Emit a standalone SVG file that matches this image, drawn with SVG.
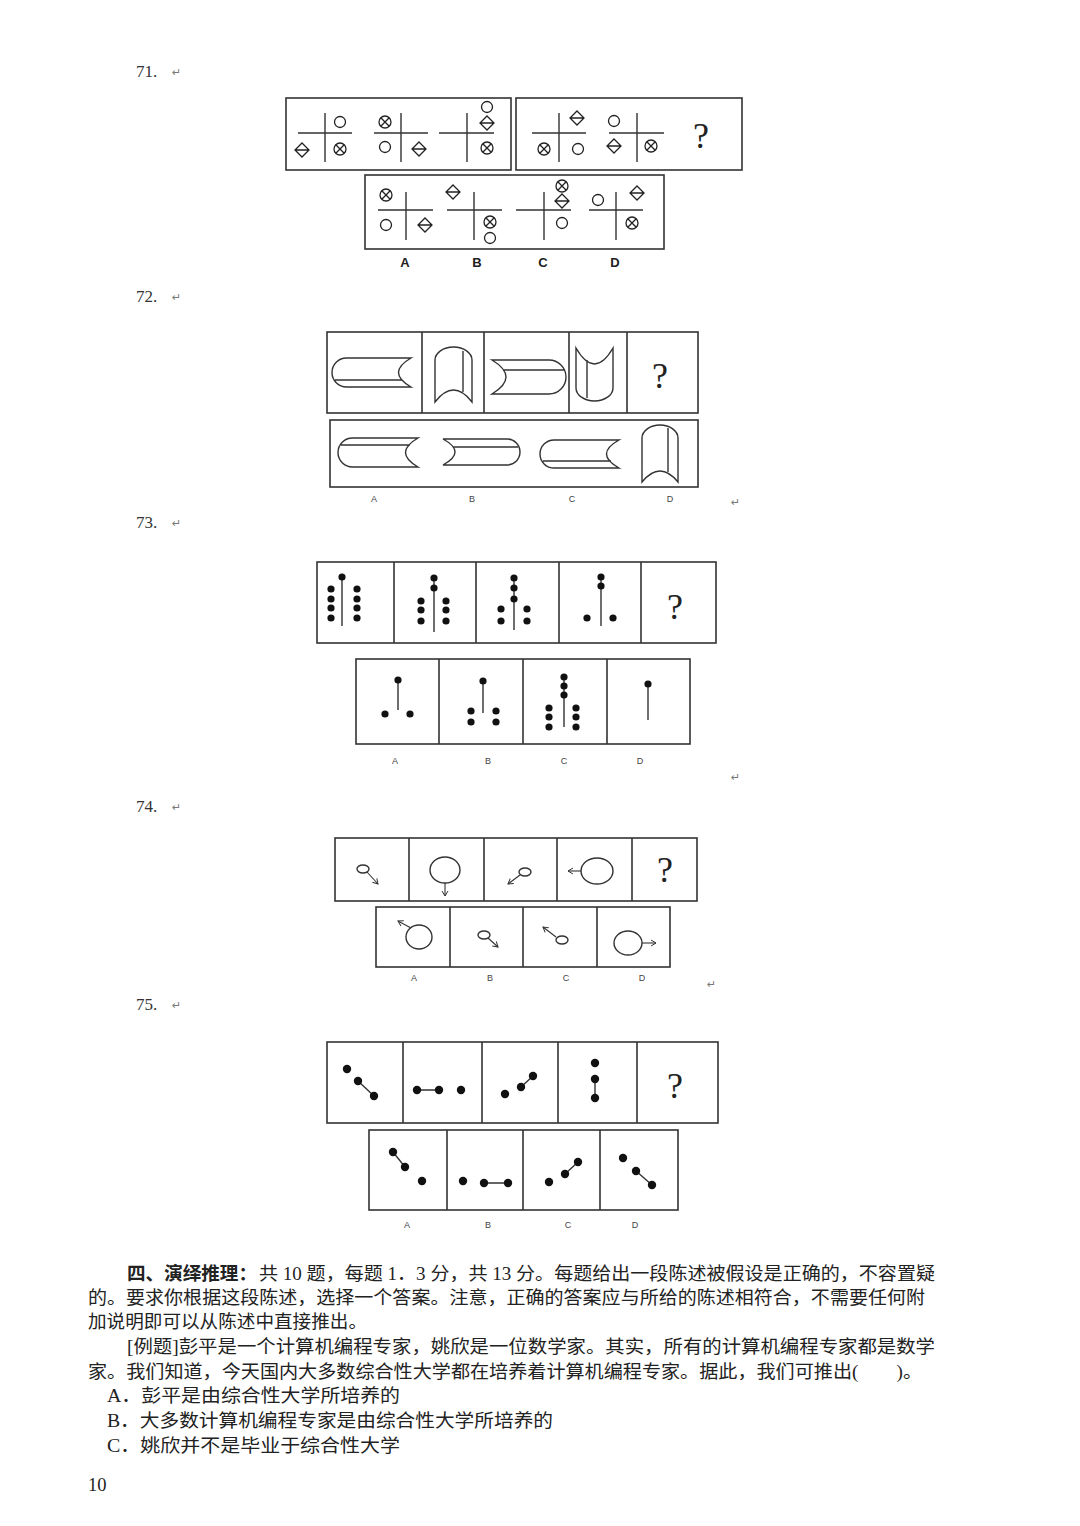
<svg xmlns="http://www.w3.org/2000/svg" width="1080" height="1526" viewBox="0 0 1080 1526">
<style>
.bx{fill:none;stroke:#333;stroke-width:1.6}
.ln{fill:none;stroke:#333;stroke-width:1.4}
.th{fill:none;stroke:#222;stroke-width:1.3}
.dt{fill:#111}
.q{font-family:"Liberation Serif",serif;font-size:17px;fill:#333}
.rt{font-family:"DejaVu Sans",sans-serif;font-size:11px;fill:#777}
.lb{font-family:"Liberation Sans",Arial,sans-serif;font-size:13px;font-weight:bold;fill:#222}
.ls{font-family:"Liberation Sans",Arial,sans-serif;font-size:9px;fill:#444}
.qm{font-family:"Liberation Serif",serif;font-size:36px;fill:#222}
.cn{font-family:"Liberation Serif","Noto Sans CJK SC",serif;font-size:18.5px;fill:#222}
</style>
<defs>
<g id="o"><circle r="5.5" class="th"/></g>
<g id="d"><path d="M0,-7 L7,0 L0,7 L-7,0 Z M-7,0 H7" class="th"/></g>
<g id="x"><circle r="6" class="th"/><path d="M-4.2,-4.2 L4.2,4.2 M-4.2,4.2 L4.2,-4.2" class="th"/></g>
<marker id="ah" markerWidth="8" markerHeight="8" refX="6" refY="4" orient="auto" markerUnits="userSpaceOnUse"><path d="M1,1 L6,4 L1,7" fill="none" stroke="#333" stroke-width="1"/></marker>
</defs>
<rect width="1080" height="1526" fill="#fff"/>

<text x="136" y="77" class="q">71.</text><text x="172" y="76" class="rt">↵</text>
<text x="136" y="302" class="q">72.</text><text x="172" y="301" class="rt">↵</text>
<text x="136" y="528" class="q">73.</text><text x="172" y="527" class="rt">↵</text>
<text x="136" y="812" class="q">74.</text><text x="172" y="811" class="rt">↵</text>
<text x="136" y="1010" class="q">75.</text><text x="172" y="1009" class="rt">↵</text>
<text x="731" y="506" class="rt">↵</text>
<text x="731" y="781" class="rt">↵</text>
<text x="707" y="988" class="rt">↵</text>

<g id="q71">
<rect x="286" y="98" width="225" height="72" class="bx"/>
<rect x="516" y="98" width="226" height="72" class="bx"/>
<rect x="365" y="175" width="299" height="74" class="bx"/>
<path d="M298,133H352M325,113V162 M374,133H428M401,113V162 M439,133H494M467,113V162 M532,133H586M559,113V162 M609,133H664M637,113V162 M378,210H433M406,192V240 M447,210H502M474,192V240 M516,210H571M544,192V240 M589,210H643M616,192V240" class="ln"/>
<use href="#o" x="340" y="122"/><use href="#d" x="302" y="150"/><use href="#x" x="340" y="149"/>
<use href="#x" x="385" y="122"/><use href="#o" x="385" y="147"/><use href="#d" x="419" y="149"/>
<use href="#o" x="487" y="107"/><use href="#d" x="487" y="123"/><use href="#x" x="487" y="148"/>
<use href="#d" x="577" y="118"/><use href="#x" x="544" y="149"/><use href="#o" x="578" y="149"/>
<use href="#o" x="614" y="121"/><use href="#d" x="614" y="146"/><use href="#x" x="651" y="146"/>
<text x="701" y="148" class="qm" text-anchor="middle">?</text>
<use href="#x" x="386" y="195"/><use href="#o" x="386" y="225"/><use href="#d" x="425" y="225"/>
<use href="#d" x="453" y="192"/><use href="#x" x="490" y="222"/><use href="#o" x="490" y="238"/>
<use href="#x" x="562" y="186"/><use href="#d" x="562" y="201"/><use href="#o" x="562" y="223"/>
<use href="#o" x="598" y="200"/><use href="#d" x="637" y="193"/><use href="#x" x="632" y="223"/>
<text x="405" y="267" class="lb" text-anchor="middle">A</text>
<text x="477" y="267" class="lb" text-anchor="middle">B</text>
<text x="543" y="267" class="lb" text-anchor="middle">C</text>
<text x="615" y="267" class="lb" text-anchor="middle">D</text>
</g>

<g id="q72">
<rect x="327" y="332" width="371" height="81" class="bx"/>
<path d="M422,332V413M484,332V413M569,332V413M627,332V413" class="bx"/>
<rect x="330" y="420" width="368" height="67" class="bx"/>
<path d="M411,358 H346.5 A14.5,14.5 0 0 0 346.5,387 H411 Q386,372.5 411,358 Z M335,380 H402" class="ln"/>
<path d="M435,402 V360 A18.5,13 0 0 1 472,360 V402 Q453.5,378 435,402 Z M463,351 V392" class="ln"/>
<path d="M492,360 H549 A17,17 0 0 1 549,394 H492 Q520,377 492,360 Z M503,370 H565" class="ln"/>
<path d="M576,348 Q594.5,380 613,348 V388 A18.5,13 0 0 1 576,388 Z M587,360 V398" class="ln"/>
<text x="660" y="388" class="qm" text-anchor="middle">?</text>
<path d="M418,438 H352.5 A14.5,14.5 0 0 0 352.5,467 H418 Q393,452.5 418,438 Z M341,445 H410" class="ln"/>
<path d="M443,439 H507 A13,13 0 0 1 507,465 H443 Q467,452 443,439 Z M453,447 H518" class="ln"/>
<path d="M619,440 H554 A14,14 0 0 0 554,468 H619 Q594,454 619,440 Z M543,461 H611" class="ln"/>
<path d="M642,482 V438 A18,13 0 0 1 678,438 V482 Q660,460 642,482 Z M668,428 V472" class="ln"/>
<text x="374" y="502" class="ls" text-anchor="middle">A</text>
<text x="472" y="502" class="ls" text-anchor="middle">B</text>
<text x="572" y="502" class="ls" text-anchor="middle">C</text>
<text x="670" y="502" class="ls" text-anchor="middle">D</text>
</g>

<g id="q73">
<rect x="317" y="562" width="399" height="81" class="bx"/>
<path d="M394,562V643M476,562V643M559,562V643M641,562V643" class="bx"/>
<rect x="356" y="659" width="334" height="85" class="bx"/>
<path d="M439,659V744M523,659V744M607,659V744" class="bx"/>
<path d="M342,577V626 M434,578V632 M514,578V630 M601,577V626 M398,680V710 M483,681V713 M564,677V727 M648,684V720" class="ln"/>
<g class="dt">
<circle cx="342" cy="577" r="3.6"/>
<circle cx="331" cy="589" r="3.6"/><circle cx="331" cy="599" r="3.6"/><circle cx="331" cy="608" r="3.6"/><circle cx="331" cy="618" r="3.6"/>
<circle cx="357" cy="589" r="3.6"/><circle cx="357" cy="599" r="3.6"/><circle cx="357" cy="608" r="3.6"/><circle cx="357" cy="618" r="3.6"/>
<circle cx="434" cy="578" r="3.6"/><circle cx="434" cy="588" r="3.6"/>
<circle cx="421" cy="601" r="3.6"/><circle cx="421" cy="610" r="3.6"/><circle cx="421" cy="621" r="3.6"/>
<circle cx="446" cy="601" r="3.6"/><circle cx="446" cy="610" r="3.6"/><circle cx="446" cy="621" r="3.6"/>
<circle cx="514" cy="578" r="3.6"/><circle cx="514" cy="588" r="3.6"/><circle cx="514" cy="599" r="3.6"/>
<circle cx="501" cy="609" r="3.6"/><circle cx="501" cy="621" r="3.6"/><circle cx="527" cy="609" r="3.6"/><circle cx="527" cy="621" r="3.6"/>
<circle cx="601" cy="577" r="3.6"/><circle cx="601" cy="586" r="3.6"/>
<circle cx="587" cy="618" r="3.6"/><circle cx="613" cy="618" r="3.6"/>
<circle cx="398" cy="680" r="3.6"/><circle cx="385" cy="714" r="3.6"/><circle cx="410" cy="714" r="3.6"/>
<circle cx="483" cy="681" r="3.6"/><circle cx="471" cy="711" r="3.6"/><circle cx="471" cy="722" r="3.6"/><circle cx="496" cy="711" r="3.6"/><circle cx="496" cy="722" r="3.6"/>
<circle cx="564" cy="677" r="3.6"/><circle cx="564" cy="686" r="3.6"/><circle cx="564" cy="695" r="3.6"/>
<circle cx="549" cy="708" r="3.6"/><circle cx="549" cy="717" r="3.6"/><circle cx="549" cy="727" r="3.6"/>
<circle cx="576" cy="708" r="3.6"/><circle cx="576" cy="717" r="3.6"/><circle cx="576" cy="727" r="3.6"/>
<circle cx="648" cy="684" r="3.6"/>
</g>
<text x="675" y="619" class="qm" text-anchor="middle">?</text>
<text x="395" y="764" class="ls" font-size="11" text-anchor="middle">A</text>
<text x="488" y="764" class="ls" font-size="11" text-anchor="middle">B</text>
<text x="564" y="764" class="ls" font-size="11" text-anchor="middle">C</text>
<text x="640" y="764" class="ls" font-size="11" text-anchor="middle">D</text>
</g>

<g id="q74">
<rect x="335" y="838" width="362" height="63" class="bx"/>
<path d="M409,838V901M484,838V901M557,838V901M632,838V901" class="bx"/>
<rect x="376" y="907" width="294" height="60" class="bx"/>
<path d="M450,907V967M523,907V967M597,907V967" class="bx"/>
<g class="ln" stroke-width="1.6">
<ellipse cx="363" cy="869" rx="6" ry="4"/><path d="M367,872 L378,884" stroke-width="1.1" marker-end="url(#ah)"/>
<ellipse cx="445" cy="870" rx="15" ry="13"/><path d="M445,883 V896" stroke-width="1.1" marker-end="url(#ah)"/>
<ellipse cx="525" cy="872" rx="6" ry="4"/><path d="M520,875 L508,884" stroke-width="1.1" marker-end="url(#ah)"/>
<ellipse cx="597" cy="871" rx="16" ry="13"/><path d="M581,871 H568" stroke-width="1.1" marker-end="url(#ah)"/>
<ellipse cx="419" cy="937" rx="13" ry="12"/><path d="M411,928 L398,921" stroke-width="1.1" marker-end="url(#ah)"/>
<ellipse cx="484" cy="935" rx="6" ry="4"/><path d="M488,938 L498,947" stroke-width="1.1" marker-end="url(#ah)"/>
<ellipse cx="562" cy="940" rx="6" ry="4"/><path d="M556,937 L543,927" stroke-width="1.1" marker-end="url(#ah)"/>
<ellipse cx="628" cy="943" rx="14" ry="12"/><path d="M642,943 H656" stroke-width="1.1" marker-end="url(#ah)"/>
</g>
<text x="665" y="882" class="qm" font-size="30" text-anchor="middle">?</text>
<text x="414" y="981" class="ls" font-size="8" text-anchor="middle">A</text>
<text x="490" y="981" class="ls" font-size="8" text-anchor="middle">B</text>
<text x="566" y="981" class="ls" font-size="8" text-anchor="middle">C</text>
<text x="642" y="981" class="ls" font-size="8" text-anchor="middle">D</text>
</g>

<g id="q75">
<rect x="327" y="1042" width="391" height="81" class="bx"/>
<path d="M403,1042V1123M482,1042V1123M558,1042V1123M637,1042V1123" class="bx"/>
<rect x="369" y="1130" width="309" height="80" class="bx"/>
<path d="M447,1130V1210M523,1130V1210M600,1130V1210" class="bx"/>
<path d="M358,1081L374,1096 M417,1090H439 M521,1087L533,1076 M595,1079V1098 M393,1152L405,1167 M484,1183H508 M565,1174L578,1162 M636,1171L652,1185" class="ln" stroke-width="1.8"/>
<g class="dt">
<circle cx="347" cy="1069" r="4.2"/><circle cx="358" cy="1081" r="4.2"/><circle cx="374" cy="1096" r="4.2"/>
<circle cx="417" cy="1090" r="4.2"/><circle cx="439" cy="1090" r="4.2"/><circle cx="461" cy="1090" r="4.2"/>
<circle cx="505" cy="1094" r="4.2"/><circle cx="521" cy="1087" r="4.2"/><circle cx="533" cy="1076" r="4.2"/>
<circle cx="595" cy="1063" r="4.2"/><circle cx="595" cy="1079" r="4.2"/><circle cx="595" cy="1098" r="4.2"/>
<circle cx="393" cy="1152" r="4.2"/><circle cx="405" cy="1167" r="4.2"/><circle cx="422" cy="1181" r="4.2"/>
<circle cx="463" cy="1181" r="4.2"/><circle cx="484" cy="1183" r="4.2"/><circle cx="508" cy="1183" r="4.2"/>
<circle cx="549" cy="1182" r="4.2"/><circle cx="565" cy="1174" r="4.2"/><circle cx="578" cy="1162" r="4.2"/>
<circle cx="623" cy="1158" r="4.2"/><circle cx="636" cy="1171" r="4.2"/><circle cx="652" cy="1185" r="4.2"/>
</g>
<text x="675" y="1098" class="qm" text-anchor="middle">?</text>
<text x="407" y="1228" class="ls" font-size="10" text-anchor="middle">A</text>
<text x="488" y="1228" class="ls" font-size="10" text-anchor="middle">B</text>
<text x="568" y="1228" class="ls" font-size="10" text-anchor="middle">C</text>
<text x="635" y="1228" class="ls" font-size="10" text-anchor="middle">D</text>
</g>

<g id="text">
<text x="127" y="1280" class="cn" font-weight="bold" textLength="130" lengthAdjust="spacingAndGlyphs">四、演绎推理：</text>
<text x="259" y="1280" class="cn" textLength="676" lengthAdjust="spacingAndGlyphs">共 10 题，每题 1．3 分，共 13 分。每题给出一段陈述被假设是正确的，不容置疑</text>
<text x="88" y="1304" class="cn" textLength="837" lengthAdjust="spacingAndGlyphs">的。要求你根据这段陈述，选择一个答案。注意，正确的答案应与所给的陈述相符合，不需要任何附</text>
<text x="88" y="1328" class="cn" textLength="279" lengthAdjust="spacingAndGlyphs">加说明即可以从陈述中直接推出。</text>
<text x="127" y="1353" class="cn" textLength="808" lengthAdjust="spacingAndGlyphs">[例题]彭平是一个计算机编程专家，姚欣是一位数学家。其实，所有的计算机编程专家都是数学</text>
<text x="88" y="1378" class="cn" textLength="834" lengthAdjust="spacingAndGlyphs">家。我们知道，今天国内大多数综合性大学都在培养着计算机编程专家。据此，我们可推出(　　)。</text>
<text x="107" y="1402" class="cn" textLength="293" lengthAdjust="spacingAndGlyphs">A．彭平是由综合性大学所培养的</text>
<text x="107" y="1427" class="cn" textLength="446" lengthAdjust="spacingAndGlyphs">B．大多数计算机编程专家是由综合性大学所培养的</text>
<text x="107" y="1452" class="cn" textLength="293" lengthAdjust="spacingAndGlyphs">C．姚欣并不是毕业于综合性大学</text>
<text x="88" y="1491" class="cn" font-size="17">10</text>
</g>
</svg>
